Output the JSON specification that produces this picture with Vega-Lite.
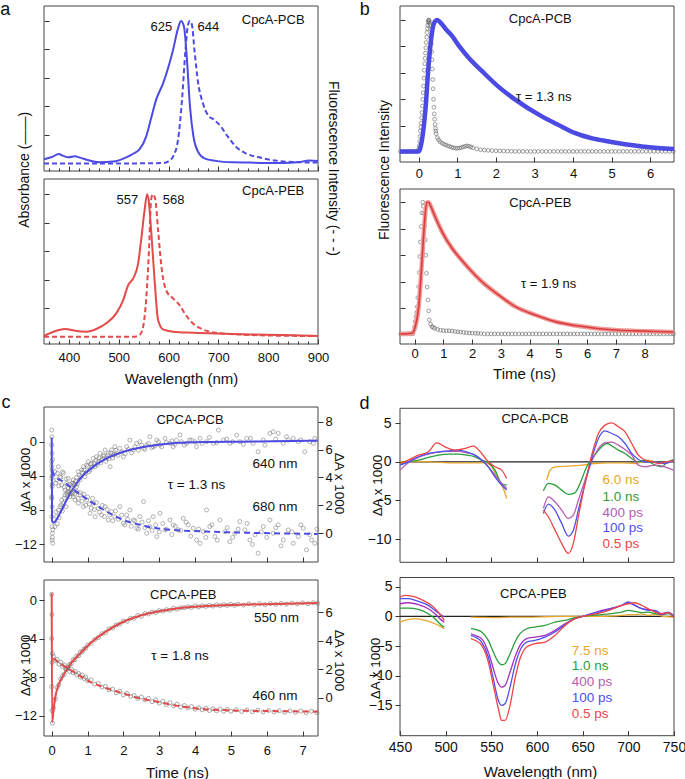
{
"$schema": "https://vega.github.io/schema/vega-lite/v6.json",
"width": 685, "height": 779, "autosize": {"type": "none"}, "padding": 0, "background": "white",
"config": {
 "view": {"stroke": null},
 "font": "Liberation Sans",
 "axis": {"domain": false, "grid": false, "labelFont": "Liberation Sans", "labelFontSize": 13, "labelColor": "#111", "tickColor": "#333", "tickWidth": 1, "titleFont": "Liberation Sans", "titleFontSize": 14, "titleFontWeight": "normal", "titleColor": "#111", "labelFlush": false, "labelOverlap": false},
 "text": {"font": "Liberation Sans", "fontSize": 13, "color": "#111"}
},
"datasets": {
 "aPcbAbs": [{"x":350,"y":0.03},{"x":369,"y":0.05},{"x":379,"y":0.067},{"x":389,"y":0.053},{"x":399,"y":0.043},{"x":412,"y":0.05},{"x":422,"y":0.041},{"x":442,"y":0.02},{"x":462,"y":0.008},{"x":489,"y":0.013},{"x":515,"y":0.043},{"x":530,"y":0.07},{"x":542,"y":0.1},{"x":555,"y":0.188},{"x":565,"y":0.317},{"x":575,"y":0.446},{"x":589,"y":0.562},{"x":599,"y":0.668},{"x":609,"y":0.796},{"x":619,"y":0.948},{"x":625,"y":1.0},{"x":631,"y":0.96},{"x":637,"y":0.726},{"x":643,"y":0.4},{"x":650,"y":0.188},{"x":659,"y":0.083},{"x":672,"y":0.036},{"x":695,"y":0.018},{"x":729,"y":0.008},{"x":762,"y":0.006},{"x":795,"y":0.004},{"x":829,"y":0.004},{"x":862,"y":0.01},{"x":882,"y":0.02},{"x":900,"y":0.018}],
 "aPcbFl": [{"x":350,"y":0},{"x":500,"y":0},{"x":590,"y":0.003},{"x":599,"y":0.013},{"x":609,"y":0.048},{"x":619,"y":0.165},{"x":627,"y":0.446},{"x":634,"y":0.796},{"x":639,"y":0.972},{"x":643,"y":1.0},{"x":647,"y":0.972},{"x":652,"y":0.796},{"x":659,"y":0.574},{"x":669,"y":0.422},{"x":679,"y":0.34},{"x":692,"y":0.305},{"x":705,"y":0.259},{"x":719,"y":0.188},{"x":735,"y":0.118},{"x":755,"y":0.071},{"x":782,"y":0.043},{"x":815,"y":0.02},{"x":849,"y":0.01},{"x":900,"y":0.006}],
 "aPebAbs": [{"x":350,"y":0.006},{"x":369,"y":0.036},{"x":392,"y":0.055},{"x":415,"y":0.041},{"x":435,"y":0.036},{"x":455,"y":0.055},{"x":475,"y":0.095},{"x":495,"y":0.165},{"x":509,"y":0.258},{"x":519,"y":0.363},{"x":529,"y":0.41},{"x":539,"y":0.515},{"x":545,"y":0.679},{"x":552,"y":0.89},{"x":557,"y":1.0},{"x":560,"y":0.96},{"x":565,"y":0.749},{"x":572,"y":0.398},{"x":579,"y":0.118},{"x":589,"y":0.052},{"x":609,"y":0.036},{"x":649,"y":0.029},{"x":695,"y":0.024},{"x":762,"y":0.017},{"x":829,"y":0.013},{"x":900,"y":0.006}],
 "aPebFl": [{"x":350,"y":0},{"x":529,"y":0},{"x":542,"y":0.013},{"x":549,"y":0.07},{"x":555,"y":0.258},{"x":561,"y":0.632},{"x":565,"y":0.96},{"x":568,"y":1.0},{"x":573,"y":0.971},{"x":579,"y":0.749},{"x":585,"y":0.515},{"x":595,"y":0.328},{"x":609,"y":0.27},{"x":622,"y":0.223},{"x":635,"y":0.152},{"x":649,"y":0.094},{"x":669,"y":0.052},{"x":695,"y":0.029},{"x":742,"y":0.017},{"x":795,"y":0.01},{"x":900,"y":0.006}],
 "bPcb": [{"x":-0.49,"y":0.005},{"x":-0.01,"y":0.005},{"x":0.08,"y":0.094},{"x":0.17,"y":0.32},{"x":0.25,"y":0.65},{"x":0.34,"y":0.905},{"x":0.42,"y":0.99},{"x":0.48,"y":1.0},{"x":0.56,"y":0.98},{"x":0.7,"y":0.93},{"x":0.86,"y":0.88},{"x":1.05,"y":0.8},{"x":1.29,"y":0.715},{"x":1.64,"y":0.613},{"x":2.07,"y":0.494},{"x":2.5,"y":0.398},{"x":3.19,"y":0.271},{"x":3.6,"y":0.21},{"x":4.06,"y":0.144},{"x":4.5,"y":0.105},{"x":4.93,"y":0.081},{"x":5.4,"y":0.058},{"x":5.79,"y":0.043},{"x":6.2,"y":0.032},{"x":6.62,"y":0.025}],
 "bPcbIrf": [{"x":-0.48,"y":0.005},{"x":-0.4,"y":0.005},{"x":-0.32,"y":0.005},{"x":-0.24,"y":0.005},{"x":-0.16,"y":0.005},{"x":-0.08,"y":0.005},{"x":-0.02,"y":0.01},{"x":0.0,"y":0.03},{"x":0.01,"y":0.05},{"x":0.02,"y":0.08},{"x":0.03,"y":0.12},{"x":0.04,"y":0.16},{"x":0.05,"y":0.19},{"x":0.06,"y":0.22},{"x":0.07,"y":0.26},{"x":0.08,"y":0.3},{"x":0.09,"y":0.35},{"x":0.1,"y":0.4},{"x":0.11,"y":0.45},{"x":0.12,"y":0.5},{"x":0.13,"y":0.56},{"x":0.14,"y":0.62},{"x":0.15,"y":0.67},{"x":0.16,"y":0.71},{"x":0.17,"y":0.75},{"x":0.18,"y":0.79},{"x":0.19,"y":0.83},{"x":0.2,"y":0.87},{"x":0.21,"y":0.905},{"x":0.22,"y":0.935},{"x":0.23,"y":0.96},{"x":0.24,"y":0.985},{"x":0.25,"y":1.0},{"x":0.26,"y":0.998},{"x":0.27,"y":0.99},{"x":0.28,"y":0.975},{"x":0.29,"y":0.96},{"x":0.3,"y":0.93},{"x":0.31,"y":0.88},{"x":0.32,"y":0.82},{"x":0.33,"y":0.76},{"x":0.34,"y":0.7},{"x":0.35,"y":0.63},{"x":0.36,"y":0.55},{"x":0.37,"y":0.48},{"x":0.38,"y":0.4},{"x":0.39,"y":0.34},{"x":0.4,"y":0.29},{"x":0.41,"y":0.25},{"x":0.42,"y":0.21},{"x":0.43,"y":0.18},{"x":0.44,"y":0.16},{"x":0.45,"y":0.14},{"x":0.48,"y":0.11},{"x":0.51,"y":0.094},{"x":0.55,"y":0.08},{"x":0.6,"y":0.068},{"x":0.65,"y":0.06},{"x":0.7,"y":0.055},{"x":0.75,"y":0.048},{"x":0.8,"y":0.043},{"x":0.85,"y":0.038},{"x":0.9,"y":0.033},{"x":0.95,"y":0.03},{"x":1.0,"y":0.03},{"x":1.05,"y":0.032},{"x":1.1,"y":0.035},{"x":1.15,"y":0.04},{"x":1.2,"y":0.045},{"x":1.25,"y":0.048},{"x":1.3,"y":0.045},{"x":1.35,"y":0.04},{"x":1.4,"y":0.034},{"x":1.5,"y":0.025},{"x":1.6,"y":0.019},{"x":1.7,"y":0.016},{"x":1.8,"y":0.014},{"x":1.9,"y":0.012},{"x":2.0,"y":0.011},{"x":2.1,"y":0.01},{"x":2.2,"y":0.009},{"x":2.3,"y":0.008},{"x":2.4,"y":0.007},{"x":2.5,"y":0.006},{"x":2.6,"y":0.006},{"x":2.7,"y":0.006},{"x":2.8,"y":0.006},{"x":2.9,"y":0.006},{"x":3.0,"y":0.006},{"x":3.1,"y":0.006},{"x":3.2,"y":0.006},{"x":3.3,"y":0.006},{"x":3.4,"y":0.006},{"x":3.5,"y":0.006},{"x":3.6,"y":0.006},{"x":3.7,"y":0.006},{"x":3.8,"y":0.006},{"x":3.9,"y":0.006},{"x":4.0,"y":0.006},{"x":4.1,"y":0.006},{"x":4.2,"y":0.006},{"x":4.3,"y":0.006},{"x":4.4,"y":0.006},{"x":4.5,"y":0.006},{"x":4.6,"y":0.006},{"x":4.7,"y":0.006},{"x":4.8,"y":0.006},{"x":4.9,"y":0.006},{"x":5.0,"y":0.006},{"x":5.1,"y":0.006},{"x":5.2,"y":0.006},{"x":5.3,"y":0.006},{"x":5.4,"y":0.006},{"x":5.5,"y":0.006},{"x":5.6,"y":0.006},{"x":5.7,"y":0.006},{"x":5.8,"y":0.006},{"x":5.9,"y":0.006},{"x":6.0,"y":0.006},{"x":6.1,"y":0.006},{"x":6.2,"y":0.006},{"x":6.3,"y":0.006},{"x":6.4,"y":0.006},{"x":6.5,"y":0.006},{"x":6.6,"y":0.006}],
 "bPeb": [{"x":-0.5,"y":0.006},{"x":-0.09,"y":0.011},{"x":0.02,"y":0.06},{"x":0.14,"y":0.21},{"x":0.25,"y":0.54},{"x":0.34,"y":0.84},{"x":0.42,"y":0.997},{"x":0.48,"y":1.0},{"x":0.56,"y":0.97},{"x":0.66,"y":0.917},{"x":0.95,"y":0.778},{"x":1.3,"y":0.653},{"x":1.53,"y":0.59},{"x":1.88,"y":0.502},{"x":2.34,"y":0.4},{"x":2.92,"y":0.3},{"x":3.5,"y":0.212},{"x":4.2,"y":0.149},{"x":4.89,"y":0.099},{"x":5.59,"y":0.069},{"x":6.28,"y":0.049},{"x":6.98,"y":0.036},{"x":7.67,"y":0.029},{"x":8.37,"y":0.024},{"x":9.0,"y":0.021}],
 "bPebIrf": [{"x":-0.48,"y":0.006},{"x":-0.37,"y":0.006},{"x":-0.26,"y":0.006},{"x":-0.15,"y":0.006},{"x":-0.06,"y":0.008},{"x":0.0,"y":0.06},{"x":0.02,"y":0.1},{"x":0.045,"y":0.137},{"x":0.07,"y":0.17},{"x":0.09,"y":0.212},{"x":0.11,"y":0.28},{"x":0.14,"y":0.363},{"x":0.16,"y":0.47},{"x":0.18,"y":0.59},{"x":0.2,"y":0.7},{"x":0.23,"y":0.816},{"x":0.25,"y":0.92},{"x":0.28,"y":1.0},{"x":0.3,"y":0.97},{"x":0.32,"y":0.917},{"x":0.345,"y":0.82},{"x":0.37,"y":0.716},{"x":0.39,"y":0.6},{"x":0.41,"y":0.464},{"x":0.435,"y":0.36},{"x":0.46,"y":0.263},{"x":0.485,"y":0.18},{"x":0.51,"y":0.112},{"x":0.55,"y":0.08},{"x":0.6,"y":0.061},{"x":0.65,"y":0.055},{"x":0.7,"y":0.048},{"x":0.8,"y":0.04},{"x":0.9,"y":0.034},{"x":1.0,"y":0.031},{"x":1.1,"y":0.03},{"x":1.2,"y":0.03},{"x":1.3,"y":0.028},{"x":1.41,"y":0.024},{"x":1.5,"y":0.022},{"x":1.6,"y":0.02},{"x":1.7,"y":0.017},{"x":1.8,"y":0.015},{"x":1.9,"y":0.013},{"x":2.0,"y":0.012},{"x":2.11,"y":0.011},{"x":2.2,"y":0.01},{"x":2.3,"y":0.009},{"x":2.42,"y":0.006},{"x":2.54,"y":0.006},{"x":2.66,"y":0.006},{"x":2.78,"y":0.006},{"x":2.9,"y":0.006},{"x":3.02,"y":0.006},{"x":3.14,"y":0.006},{"x":3.26,"y":0.006},{"x":3.38,"y":0.006},{"x":3.5,"y":0.006},{"x":3.62,"y":0.006},{"x":3.74,"y":0.006},{"x":3.86,"y":0.006},{"x":3.98,"y":0.006},{"x":4.1,"y":0.006},{"x":4.22,"y":0.006},{"x":4.34,"y":0.006},{"x":4.46,"y":0.006},{"x":4.58,"y":0.006},{"x":4.7,"y":0.006},{"x":4.82,"y":0.006},{"x":4.94,"y":0.006},{"x":5.06,"y":0.006},{"x":5.18,"y":0.006},{"x":5.3,"y":0.006},{"x":5.42,"y":0.006},{"x":5.54,"y":0.006},{"x":5.66,"y":0.006},{"x":5.78,"y":0.006},{"x":5.9,"y":0.006},{"x":6.02,"y":0.006},{"x":6.14,"y":0.006},{"x":6.26,"y":0.006},{"x":6.38,"y":0.006},{"x":6.5,"y":0.006},{"x":6.62,"y":0.006},{"x":6.74,"y":0.006},{"x":6.86,"y":0.006},{"x":6.98,"y":0.006},{"x":7.1,"y":0.006},{"x":7.22,"y":0.006},{"x":7.34,"y":0.006},{"x":7.46,"y":0.006},{"x":7.58,"y":0.006},{"x":7.7,"y":0.006},{"x":7.82,"y":0.006},{"x":7.94,"y":0.006},{"x":8.06,"y":0.006},{"x":8.18,"y":0.006},{"x":8.3,"y":0.006},{"x":8.42,"y":0.006},{"x":8.54,"y":0.006},{"x":8.66,"y":0.006},{"x":8.78,"y":0.006},{"x":8.9,"y":0.006},{"x":9.0,"y":0.006}],
 "c640fit": [{"x":0,"y":0.5},{"x":0.01,"y":-9.3},{"x":0.045,"y":-9.47},{"x":0.092,"y":-9.35},{"x":0.231,"y":-8.38},{"x":0.417,"y":-6.82},{"x":0.603,"y":-5.45},{"x":0.882,"y":-3.9},{"x":1.16,"y":-2.92},{"x":1.53,"y":-1.95},{"x":2.0,"y":-1.17},{"x":2.46,"y":-0.7},{"x":2.93,"y":-0.39},{"x":3.39,"y":-0.19},{"x":4.32,"y":-0.04},{"x":5.25,"y":0.0},{"x":6.18,"y":0.04},{"x":7.42,"y":0.12}],
 "c680fit": [{"x":0.01,"y":4.5},{"x":0.092,"y":4.06},{"x":0.324,"y":3.7},{"x":0.6,"y":3.15},{"x":0.88,"y":2.63},{"x":1.16,"y":2.15},{"x":1.53,"y":1.55},{"x":2.0,"y":0.95},{"x":2.46,"y":0.6},{"x":2.93,"y":0.36},{"x":3.39,"y":0.24},{"x":4.32,"y":0.12},{"x":5.25,"y":0.05},{"x":6.18,"y":0.0},{"x":7.42,"y":-0.05}],
 "c640pts": [{"x":0,"y":1.36},{"x":0.005,"y":0.58},{"x":0,"y":-0.39},{"x":0.01,"y":-1.36},{"x":0,"y":-2.34},{"x":0.01,"y":-3.31},{"x":0,"y":-4.29},{"x":0.01,"y":-5.26},{"x":0,"y":-6.43},{"x":0.01,"y":-7.6},{"x":0,"y":-8.77},{"x":0.01,"y":-9.93},{"x":0.02,"y":-10.71},{"x":0.01,"y":-11.49},{"x":0.03,"y":-11.88},{"x":0.02,"y":-11.2},{"x":0.03,"y":-10.3},{"x":0.092,"y":-9.93},{"x":0.138,"y":-8.77},{"x":0.185,"y":-7.99},{"x":0.231,"y":-7.6},{"x":0.278,"y":-6.82},{"x":0.324,"y":-7.21},{"x":0.371,"y":-6.23},{"x":0.417,"y":-6.04},{"x":0.464,"y":-5.45},{"x":0.51,"y":-6.43},{"x":0.557,"y":-4.87},{"x":0.603,"y":-4.48},{"x":0.65,"y":-5.06},{"x":0.696,"y":-4.17},{"x":0.743,"y":-3.51},{"x":0.789,"y":-4.48},{"x":0.836,"y":-3.31},{"x":0.882,"y":-2.92},{"x":0.928,"y":-4.09},{"x":0.975,"y":-2.73},{"x":1.02,"y":-2.34},{"x":1.07,"y":-3.31},{"x":1.11,"y":-2.53},{"x":1.16,"y":-1.95},{"x":1.21,"y":-2.92},{"x":1.25,"y":-1.75},{"x":1.3,"y":-2.34},{"x":1.35,"y":-1.36},{"x":1.39,"y":-2.14},{"x":1.44,"y":-1.56},{"x":1.49,"y":-0.97},{"x":1.53,"y":-1.95},{"x":1.58,"y":-1.36},{"x":1.63,"y":-2.92},{"x":1.67,"y":-0.97},{"x":1.72,"y":-1.56},{"x":1.76,"y":-0.58},{"x":1.81,"y":-1.36},{"x":1.9,"y":-0.78},{"x":2.0,"y":-1.75},{"x":2.09,"y":-0.58},{"x":2.18,"y":0.19},{"x":2.28,"y":-0.97},{"x":2.37,"y":-0.19},{"x":2.46,"y":0.0},{"x":2.56,"y":-0.78},{"x":2.65,"y":-0.39},{"x":2.74,"y":0.58},{"x":2.83,"y":-0.58},{"x":2.93,"y":0.19},{"x":3.02,"y":-0.39},{"x":3.16,"y":0.39},{"x":3.3,"y":-0.19},{"x":3.39,"y":-0.58},{"x":3.48,"y":0.19},{"x":3.58,"y":0.78},{"x":3.76,"y":-0.19},{"x":3.9,"y":0.19},{"x":4.04,"y":-0.58},{"x":4.14,"y":0.39},{"x":4.32,"y":0.0},{"x":4.51,"y":-0.19},{"x":4.65,"y":1.36},{"x":4.79,"y":0.19},{"x":4.97,"y":-0.19},{"x":5.16,"y":0.78},{"x":5.25,"y":0.0},{"x":5.44,"y":0.39},{"x":5.62,"y":-0.19},{"x":5.76,"y":-1.17},{"x":5.9,"y":0.19},{"x":6.09,"y":0.97},{"x":6.18,"y":1.17},{"x":6.32,"y":0.97},{"x":6.46,"y":-0.19},{"x":6.6,"y":0.19},{"x":6.74,"y":0.39},{"x":6.88,"y":0.0},{"x":7.06,"y":-1.17},{"x":7.2,"y":0.0},{"x":7.34,"y":0.39},
  {"x":0.12,"y":-8.2},{"x":0.16,"y":-9.6},{"x":0.21,"y":-8.9},{"x":0.26,"y":-7.4},{"x":0.3,"y":-8.1},{"x":0.35,"y":-6.6},{"x":0.4,"y":-7.6},{"x":0.44,"y":-6.3},{"x":0.48,"y":-5.9},{"x":0.53,"y":-5.6},{"x":0.58,"y":-6.1},{"x":0.62,"y":-5.0},{"x":0.67,"y":-4.6},{"x":0.72,"y":-4.9},{"x":0.76,"y":-3.9},{"x":0.81,"y":-4.1},{"x":0.86,"y":-3.6},{"x":0.9,"y":-3.3},{"x":0.95,"y":-3.7},{"x":1.0,"y":-2.9},{"x":1.04,"y":-3.5},{"x":1.09,"y":-2.6},{"x":1.13,"y":-3.0},{"x":1.18,"y":-2.5},{"x":1.23,"y":-2.2},{"x":1.27,"y":-2.7},{"x":1.32,"y":-1.9},{"x":1.37,"y":-2.5},{"x":1.42,"y":-2.0},{"x":1.46,"y":-1.7},{"x":1.51,"y":-2.3},{"x":1.56,"y":-1.6},{"x":1.6,"y":-2.0},{"x":1.65,"y":-1.3},{"x":1.7,"y":-1.9},{"x":1.74,"y":-1.5},{"x":1.79,"y":-1.0},{"x":1.85,"y":-1.6},{"x":1.95,"y":-1.2},{"x":2.05,"y":-1.4},{"x":2.14,"y":-0.9},{"x":2.23,"y":-1.3},{"x":2.32,"y":-0.6},{"x":2.42,"y":-1.0},{"x":2.51,"y":-0.4},{"x":2.6,"y":-0.9},{"x":2.7,"y":-0.2},{"x":2.79,"y":-0.7},{"x":2.88,"y":-0.5},{"x":2.98,"y":0.0},{"x":3.07,"y":-0.6},{"x":3.2,"y":-0.1},{"x":3.35,"y":0.1},{"x":3.44,"y":-0.3},{"x":3.62,"y":0.0},{"x":3.7,"y":-0.4},{"x":3.85,"y":0.2},{"x":4.0,"y":0.0},{"x":4.2,"y":-0.2},{"x":4.4,"y":0.5},{"x":4.6,"y":-0.1},{"x":4.88,"y":0.3},{"x":5.05,"y":0.0},{"x":5.35,"y":-0.3},{"x":5.55,"y":0.4},{"x":5.95,"y":-0.4},{"x":6.25,"y":0.3},{"x":6.55,"y":0.6},{"x":6.95,"y":0.2},{"x":7.3,"y":-0.2}],
 "c680pts": [{"x":0.0,"y":2.5},{"x":0.01,"y":3.5},{"x":0.0,"y":4.8},{"x":0.02,"y":5.3},{"x":0.01,"y":4.1},{"x":0.092,"y":4.42},{"x":0.138,"y":3.82},{"x":0.185,"y":4.77},{"x":0.231,"y":4.06},{"x":0.278,"y":3.46},{"x":0.324,"y":4.3},{"x":0.371,"y":3.1},{"x":0.417,"y":3.58},{"x":0.464,"y":3.94},{"x":0.51,"y":2.86},{"x":0.557,"y":3.22},{"x":0.603,"y":2.63},{"x":0.65,"y":2.39},{"x":0.696,"y":3.34},{"x":0.743,"y":2.15},{"x":0.789,"y":2.74},{"x":0.882,"y":1.91},{"x":0.975,"y":2.39},{"x":1.07,"y":1.43},{"x":1.16,"y":2.15},{"x":1.21,"y":1.19},{"x":1.3,"y":1.79},{"x":1.39,"y":1.31},{"x":1.49,"y":1.91},{"x":1.58,"y":0.95},{"x":1.67,"y":1.55},{"x":1.76,"y":1.19},{"x":1.9,"y":1.91},{"x":2.0,"y":0.72},{"x":2.09,"y":1.31},{"x":2.18,"y":1.67},{"x":2.28,"y":0.95},{"x":2.37,"y":0.36},{"x":2.46,"y":1.19},{"x":2.56,"y":2.27},{"x":2.65,"y":0.0},{"x":2.74,"y":0.48},{"x":2.83,"y":1.19},{"x":2.93,"y":-0.24},{"x":3.02,"y":1.43},{"x":3.16,"y":0.24},{"x":3.3,"y":0.95},{"x":3.39,"y":0.6},{"x":3.53,"y":0.24},{"x":3.67,"y":1.07},{"x":3.81,"y":0.6},{"x":3.95,"y":0.36},{"x":4.04,"y":-0.48},{"x":4.14,"y":-0.72},{"x":4.23,"y":0.12},{"x":4.32,"y":1.67},{"x":4.41,"y":0.48},{"x":4.55,"y":-0.24},{"x":4.69,"y":0.95},{"x":4.83,"y":0.12},{"x":4.97,"y":-0.6},{"x":5.11,"y":0.0},{"x":5.25,"y":0.84},{"x":5.39,"y":0.24},{"x":5.53,"y":-0.48},{"x":5.67,"y":-0.12},{"x":5.76,"y":-1.43},{"x":5.9,"y":0.48},{"x":6.09,"y":0.95},{"x":6.18,"y":0.0},{"x":6.32,"y":0.6},{"x":6.46,"y":-0.48},{"x":6.6,"y":0.24},{"x":6.74,"y":-0.72},{"x":6.88,"y":-0.24},{"x":7.02,"y":0.36},{"x":7.11,"y":-1.19},{"x":7.25,"y":-0.48},{"x":7.34,"y":-0.72},
  {"x":0.11,"y":3.6},{"x":0.16,"y":4.3},{"x":0.2,"y":3.4},{"x":0.25,"y":4.0},{"x":0.3,"y":4.4},{"x":0.35,"y":3.3},{"x":0.4,"y":3.9},{"x":0.45,"y":3.0},{"x":0.5,"y":3.5},{"x":0.55,"y":2.9},{"x":0.6,"y":3.6},{"x":0.64,"y":2.8},{"x":0.7,"y":3.0},{"x":0.74,"y":2.5},{"x":0.8,"y":2.9},{"x":0.85,"y":2.3},{"x":0.9,"y":2.8},{"x":0.95,"y":2.0},{"x":1.0,"y":2.6},{"x":1.05,"y":2.1},{"x":1.1,"y":1.8},{"x":1.14,"y":2.5},{"x":1.19,"y":1.7},{"x":1.25,"y":2.2},{"x":1.33,"y":1.5},{"x":1.41,"y":2.0},{"x":1.47,"y":1.2},{"x":1.55,"y":1.7},{"x":1.62,"y":1.3},{"x":1.7,"y":0.9},{"x":1.78,"y":1.6},{"x":1.86,"y":1.0},{"x":1.95,"y":1.3},{"x":2.04,"y":0.6},{"x":2.12,"y":1.0},{"x":2.22,"y":0.5},{"x":2.32,"y":0.9},{"x":2.42,"y":0.3},{"x":2.52,"y":0.8},{"x":2.6,"y":0.4},{"x":2.7,"y":0.9},{"x":2.8,"y":0.2},{"x":2.9,"y":0.6},{"x":3.0,"y":0.1},{"x":3.1,"y":0.7},{"x":3.2,"y":0.3},{"x":3.35,"y":-0.1},{"x":3.45,"y":0.5},{"x":3.6,"y":0.2},{"x":3.75,"y":0.8},{"x":3.88,"y":-0.2},{"x":4.1,"y":0.3},{"x":4.3,"y":-0.3},{"x":4.47,"y":0.6},{"x":4.62,"y":-0.5},{"x":4.9,"y":0.4},{"x":5.05,"y":-0.3},{"x":5.2,"y":0.3},{"x":5.45,"y":0.7},{"x":5.6,"y":-0.8},{"x":5.85,"y":0.1},{"x":6.0,"y":-0.3},{"x":6.25,"y":0.4},{"x":6.4,"y":-0.9},{"x":6.7,"y":0.1},{"x":6.95,"y":0.6},{"x":7.2,"y":-0.1},{"x":7.4,"y":0.3}],
 "c550fit": [{"x":0,"y":0.7},{"x":0.01,"y":-12.7},{"x":0.045,"y":-11.65},{"x":0.092,"y":-10.26},{"x":0.185,"y":-8.87},{"x":0.324,"y":-7.83},{"x":0.51,"y":-6.71},{"x":0.79,"y":-5.57},{"x":1.07,"y":-4.52},{"x":1.53,"y":-3.23},{"x":2.0,"y":-2.26},{"x":2.46,"y":-1.63},{"x":2.93,"y":-1.22},{"x":3.39,"y":-0.94},{"x":3.86,"y":-0.73},{"x":4.32,"y":-0.63},{"x":5.25,"y":-0.49},{"x":6.18,"y":-0.42},{"x":7.42,"y":-0.31}],
 "c460fit": [{"x":0.045,"y":2.76},{"x":0.231,"y":2.41},{"x":0.603,"y":1.83},{"x":1.07,"y":1.12},{"x":1.53,"y":0.66},{"x":2.0,"y":0.3},{"x":2.46,"y":-0.05},{"x":2.93,"y":-0.28},{"x":3.39,"y":-0.52},{"x":3.86,"y":-0.7},{"x":4.32,"y":-0.82},{"x":4.79,"y":-0.87},{"x":5.25,"y":-0.91},{"x":6.18,"y":-0.94},{"x":7.42,"y":-0.98}],
 "c550pts": [{"x":0,"y":0.6},{"x":0.005,"y":-1.5},{"x":0,"y":-4},{"x":0.01,"y":-6.5},{"x":0,"y":-9},{"x":0.01,"y":-11.5},{"x":0.02,"y":-12.8},{"x":0.05,"y":-11.2},{"x":0.1,"y":-10.3},{"x":0.15,"y":-9.1},{"x":0.2,"y":-8.8},{"x":0.25,"y":-8.2},{"x":0.3,"y":-7.9},{"x":0.35,"y":-7.7},{"x":0.4,"y":-7.2},{"x":0.45,"y":-7.1},{"x":0.5,"y":-6.7},{"x":0.55,"y":-6.6},{"x":0.6,"y":-6.2},{"x":0.65,"y":-6.2},{"x":0.7,"y":-5.8},{"x":0.75,"y":-5.8},{"x":0.8,"y":-5.4},{"x":0.85,"y":-5.4},{"x":0.9,"y":-5.1},{"x":0.95,"y":-5.0},{"x":1.0,"y":-4.7},{"x":1.1,"y":-4.5},{"x":1.2,"y":-4.1},{"x":1.3,"y":-3.9},{"x":1.4,"y":-3.5},{"x":1.5,"y":-3.4},{"x":1.6,"y":-3.0},{"x":1.7,"y":-2.9},{"x":1.8,"y":-2.6},{"x":1.9,"y":-2.5},{"x":2.0,"y":-2.2},{"x":2.1,"y":-2.2},{"x":2.2,"y":-1.9},{"x":2.3,"y":-1.9},{"x":2.4,"y":-1.6},{"x":2.5,"y":-1.7},{"x":2.6,"y":-1.4},{"x":2.7,"y":-1.45},{"x":2.8,"y":-1.25},{"x":2.9,"y":-1.3},{"x":3.0,"y":-1.1},{"x":3.1,"y":-1.15},{"x":3.2,"y":-1.0},{"x":3.3,"y":-1.05},{"x":3.4,"y":-0.85},{"x":3.5,"y":-0.95},{"x":3.6,"y":-0.8},{"x":3.7,"y":-0.8},{"x":3.8,"y":-0.7},{"x":3.9,"y":-0.78},{"x":4.0,"y":-0.62},{"x":4.1,"y":-0.72},{"x":4.2,"y":-0.6},{"x":4.3,"y":-0.66},{"x":4.4,"y":-0.55},{"x":4.5,"y":-0.63},{"x":4.6,"y":-0.5},{"x":4.7,"y":-0.6},{"x":4.8,"y":-0.48},{"x":4.9,"y":-0.56},{"x":5.0,"y":-0.45},{"x":5.1,"y":-0.55},{"x":5.2,"y":-0.44},{"x":5.35,"y":-0.52},{"x":5.5,"y":-0.4},{"x":5.65,"y":-0.5},{"x":5.8,"y":-0.38},{"x":5.95,"y":-0.48},{"x":6.1,"y":-0.37},{"x":6.25,"y":-0.46},{"x":6.4,"y":-0.35},{"x":6.55,"y":-0.43},{"x":6.7,"y":-0.32},{"x":6.85,"y":-0.4},{"x":7.0,"y":-0.3},{"x":7.15,"y":-0.38},{"x":7.3,"y":-0.28},{"x":7.42,"y":-0.35}],
 "c460pts": [{"x":0.02,"y":3.1},{"x":0.05,"y":2.9},{"x":0.1,"y":2.6},{"x":0.15,"y":2.7},{"x":0.2,"y":2.35},{"x":0.25,"y":2.5},{"x":0.3,"y":2.2},{"x":0.35,"y":2.3},{"x":0.4,"y":2.0},{"x":0.45,"y":2.15},{"x":0.5,"y":1.85},{"x":0.55,"y":2.0},{"x":0.6,"y":1.75},{"x":0.65,"y":1.85},{"x":0.7,"y":1.6},{"x":0.75,"y":1.7},{"x":0.8,"y":1.45},{"x":0.85,"y":1.6},{"x":0.9,"y":1.35},{"x":0.95,"y":1.45},{"x":1.0,"y":1.2},{"x":1.1,"y":1.25},{"x":1.2,"y":0.95},{"x":1.3,"y":1.0},{"x":1.4,"y":0.75},{"x":1.5,"y":0.8},{"x":1.6,"y":0.55},{"x":1.7,"y":0.6},{"x":1.8,"y":0.35},{"x":1.9,"y":0.45},{"x":2.0,"y":0.2},{"x":2.1,"y":0.3},{"x":2.2,"y":0.1},{"x":2.3,"y":0.15},{"x":2.4,"y":-0.05},{"x":2.5,"y":0.05},{"x":2.6,"y":-0.15},{"x":2.7,"y":-0.05},{"x":2.8,"y":-0.28},{"x":2.9,"y":-0.15},{"x":3.0,"y":-0.38},{"x":3.1,"y":-0.25},{"x":3.2,"y":-0.48},{"x":3.3,"y":-0.35},{"x":3.4,"y":-0.58},{"x":3.5,"y":-0.45},{"x":3.6,"y":-0.66},{"x":3.7,"y":-0.55},{"x":3.8,"y":-0.72},{"x":3.9,"y":-0.62},{"x":4.0,"y":-0.8},{"x":4.1,"y":-0.7},{"x":4.2,"y":-0.85},{"x":4.3,"y":-0.75},{"x":4.4,"y":-0.9},{"x":4.5,"y":-0.78},{"x":4.6,"y":-0.92},{"x":4.7,"y":-0.8},{"x":4.8,"y":-0.95},{"x":4.9,"y":-0.82},{"x":5.0,"y":-0.95},{"x":5.15,"y":-0.85},{"x":5.3,"y":-0.97},{"x":5.45,"y":-0.86},{"x":5.6,"y":-0.98},{"x":5.75,"y":-0.88},{"x":5.9,"y":-1.0},{"x":6.05,"y":-0.9},{"x":6.2,"y":-1.0},{"x":6.35,"y":-0.92},{"x":6.5,"y":-1.02},{"x":6.65,"y":-0.93},{"x":6.8,"y":-1.03},{"x":6.95,"y":-0.94},{"x":7.1,"y":-1.05},{"x":7.25,"y":-0.95},{"x":7.4,"y":-1.05}],
 "dPcb": [
  {"s":"6.0 ns","g":1,"x":450,"y":0},{"s":"6.0 ns","g":1,"x":459.1,"y":0},{"s":"6.0 ns","g":1,"x":473.7,"y":0.04},{"s":"6.0 ns","g":1,"x":488.3,"y":-0.04},{"s":"6.0 ns","g":1,"x":502.9,"y":-0.13},{"s":"6.0 ns","g":1,"x":517.5,"y":-0.13},{"s":"6.0 ns","g":1,"x":532.1,"y":-0.13},{"s":"6.0 ns","g":1,"x":543.1,"y":-0.13},{"s":"6.0 ns","g":1,"x":550.4,"y":-0.65},{"s":"6.0 ns","g":1,"x":557.7,"y":-2.37},{"s":"6.0 ns","g":1,"x":563.2,"y":-3.45},{"s":"6.0 ns","g":1,"x":566.8,"y":-4.74},
  {"s":"6.0 ns","g":2,"x":610.6,"y":-2.37},{"s":"6.0 ns","g":2,"x":614.3,"y":-1.08},{"s":"6.0 ns","g":2,"x":619.7,"y":-0.65},{"s":"6.0 ns","g":2,"x":634.3,"y":-0.56},{"s":"6.0 ns","g":2,"x":648.9,"y":-0.43},{"s":"6.0 ns","g":2,"x":663.5,"y":-0.22},{"s":"6.0 ns","g":2,"x":678.1,"y":-0.13},{"s":"6.0 ns","g":2,"x":692.7,"y":-0.13},{"s":"6.0 ns","g":2,"x":707.3,"y":-0.22},{"s":"6.0 ns","g":2,"x":721.9,"y":0.22},{"s":"6.0 ns","g":2,"x":736.5,"y":-0.22},{"s":"6.0 ns","g":2,"x":749.3,"y":0.13},
  {"s":"1.0 ns","g":1,"x":450,"y":-0.22},{"s":"1.0 ns","g":1,"x":459.1,"y":0},{"s":"1.0 ns","g":1,"x":470.1,"y":0.22},{"s":"1.0 ns","g":1,"x":481,"y":0.56},{"s":"1.0 ns","g":1,"x":492,"y":0.86},{"s":"1.0 ns","g":1,"x":502.9,"y":0.99},{"s":"1.0 ns","g":1,"x":513.9,"y":0.99},{"s":"1.0 ns","g":1,"x":523,"y":0.86},{"s":"1.0 ns","g":1,"x":532.1,"y":0.65},{"s":"1.0 ns","g":1,"x":539.4,"y":0.22},{"s":"1.0 ns","g":1,"x":546.7,"y":-0.13},{"s":"1.0 ns","g":1,"x":554,"y":-1.08},{"s":"1.0 ns","g":1,"x":561.3,"y":-2.8},{"s":"1.0 ns","g":1,"x":566.8,"y":-3.02},
  {"s":"1.0 ns","g":2,"x":607,"y":-3.75},{"s":"1.0 ns","g":2,"x":612.4,"y":-2.8},{"s":"1.0 ns","g":2,"x":619.7,"y":-3.02},{"s":"1.0 ns","g":2,"x":627,"y":-3.66},{"s":"1.0 ns","g":2,"x":634.3,"y":-4.22},{"s":"1.0 ns","g":2,"x":641.6,"y":-4.01},{"s":"1.0 ns","g":2,"x":647.1,"y":-2.8},{"s":"1.0 ns","g":2,"x":654.4,"y":-0.65},{"s":"1.0 ns","g":2,"x":661.7,"y":0.65},{"s":"1.0 ns","g":2,"x":669,"y":1.72},{"s":"1.0 ns","g":2,"x":676.3,"y":2.37},{"s":"1.0 ns","g":2,"x":683.6,"y":1.94},{"s":"1.0 ns","g":2,"x":689.1,"y":1.51},{"s":"1.0 ns","g":2,"x":696.4,"y":1.08},{"s":"1.0 ns","g":2,"x":703.7,"y":0.43},{"s":"1.0 ns","g":2,"x":711,"y":0},{"s":"1.0 ns","g":2,"x":718.3,"y":0.22},{"s":"1.0 ns","g":2,"x":729.2,"y":-0.43},{"s":"1.0 ns","g":2,"x":736.5,"y":-0.65},{"s":"1.0 ns","g":2,"x":742,"y":-0.13},{"s":"1.0 ns","g":2,"x":749.3,"y":0.3},
  {"s":"400 ps","g":1,"x":450,"y":-1.08},{"s":"400 ps","g":1,"x":459.1,"y":-0.13},{"s":"400 ps","g":1,"x":470.1,"y":0.56},{"s":"400 ps","g":1,"x":481,"y":0.99},{"s":"400 ps","g":1,"x":492,"y":1.25},{"s":"400 ps","g":1,"x":502.9,"y":1.34},{"s":"400 ps","g":1,"x":513.9,"y":1.34},{"s":"400 ps","g":1,"x":523,"y":1.16},{"s":"400 ps","g":1,"x":532.1,"y":0.86},{"s":"400 ps","g":1,"x":539.4,"y":0.22},{"s":"400 ps","g":1,"x":546.7,"y":-0.65},{"s":"400 ps","g":1,"x":554,"y":-1.72},{"s":"400 ps","g":1,"x":561.3,"y":-2.8},{"s":"400 ps","g":1,"x":566.8,"y":-3.45},
  {"s":"400 ps","g":2,"x":607,"y":-6.03},{"s":"400 ps","g":2,"x":612.4,"y":-4.53},{"s":"400 ps","g":2,"x":619.7,"y":-5.17},{"s":"400 ps","g":2,"x":627,"y":-6.25},{"s":"400 ps","g":2,"x":634.3,"y":-7.33},{"s":"400 ps","g":2,"x":639.8,"y":-6.9},{"s":"400 ps","g":2,"x":645.3,"y":-4.96},{"s":"400 ps","g":2,"x":652.6,"y":-2.37},{"s":"400 ps","g":2,"x":659.9,"y":0},{"s":"400 ps","g":2,"x":667.2,"y":1.72},{"s":"400 ps","g":2,"x":674.5,"y":2.46},{"s":"400 ps","g":2,"x":681.8,"y":2.54},{"s":"400 ps","g":2,"x":689.1,"y":2.16},{"s":"400 ps","g":2,"x":696.4,"y":1.59},{"s":"400 ps","g":2,"x":703.7,"y":0.86},{"s":"400 ps","g":2,"x":711,"y":-0.43},{"s":"400 ps","g":2,"x":718.3,"y":-0.65},{"s":"400 ps","g":2,"x":729.2,"y":-0.43},{"s":"400 ps","g":2,"x":740.2,"y":-0.65},{"s":"400 ps","g":2,"x":749.3,"y":-1.08},
  {"s":"100 ps","g":1,"x":450,"y":-0.43},{"s":"100 ps","g":1,"x":459.1,"y":0},{"s":"100 ps","g":1,"x":470.1,"y":0.65},{"s":"100 ps","g":1,"x":481,"y":1.08},{"s":"100 ps","g":1,"x":492,"y":1.29},{"s":"100 ps","g":1,"x":502.9,"y":1.42},{"s":"100 ps","g":1,"x":513.9,"y":1.51},{"s":"100 ps","g":1,"x":523,"y":1.29},{"s":"100 ps","g":1,"x":532.1,"y":0.86},{"s":"100 ps","g":1,"x":539.4,"y":0.22},{"s":"100 ps","g":1,"x":546.7,"y":-0.65},{"s":"100 ps","g":1,"x":554,"y":-1.94},{"s":"100 ps","g":1,"x":561.3,"y":-3.02},{"s":"100 ps","g":1,"x":566.8,"y":-3.66},
  {"s":"100 ps","g":2,"x":607,"y":-6.68},{"s":"100 ps","g":2,"x":612.4,"y":-5.47},{"s":"100 ps","g":2,"x":619.7,"y":-6.25},{"s":"100 ps","g":2,"x":627,"y":-7.97},{"s":"100 ps","g":2,"x":634.3,"y":-9.61},{"s":"100 ps","g":2,"x":639.8,"y":-8.84},{"s":"100 ps","g":2,"x":645.3,"y":-6.25},{"s":"100 ps","g":2,"x":652.6,"y":-2.8},{"s":"100 ps","g":2,"x":659.9,"y":0.43},{"s":"100 ps","g":2,"x":667.2,"y":3.02},{"s":"100 ps","g":2,"x":674.5,"y":4.01},{"s":"100 ps","g":2,"x":681.8,"y":3.66},{"s":"100 ps","g":2,"x":689.1,"y":3.23},{"s":"100 ps","g":2,"x":696.4,"y":2.37},{"s":"100 ps","g":2,"x":703.7,"y":1.08},{"s":"100 ps","g":2,"x":711,"y":0.3},{"s":"100 ps","g":2,"x":718.3,"y":0},{"s":"100 ps","g":2,"x":729.2,"y":0},{"s":"100 ps","g":2,"x":740.2,"y":-0.22},{"s":"100 ps","g":2,"x":749.3,"y":0.22},
  {"s":"0.5 ps","g":1,"x":450,"y":-0.22},{"s":"0.5 ps","g":1,"x":459.1,"y":0.22},{"s":"0.5 ps","g":1,"x":470.1,"y":0.86},{"s":"0.5 ps","g":1,"x":481,"y":1.29},{"s":"0.5 ps","g":1,"x":490.2,"y":2.46},{"s":"0.5 ps","g":1,"x":499.3,"y":1.94},{"s":"0.5 ps","g":1,"x":510.2,"y":1.51},{"s":"0.5 ps","g":1,"x":521.2,"y":1.72},{"s":"0.5 ps","g":1,"x":530.3,"y":2.03},{"s":"0.5 ps","g":1,"x":539.4,"y":1.08},{"s":"0.5 ps","g":1,"x":546.7,"y":0},{"s":"0.5 ps","g":1,"x":554,"y":-0.65},{"s":"0.5 ps","g":1,"x":561.3,"y":-1.08},{"s":"0.5 ps","g":1,"x":566.8,"y":-2.16},
  {"s":"0.5 ps","g":2,"x":607,"y":-6.25},{"s":"0.5 ps","g":2,"x":612.4,"y":-7.11},{"s":"0.5 ps","g":2,"x":619.7,"y":-8.84},{"s":"0.5 ps","g":2,"x":627,"y":-10.56},{"s":"0.5 ps","g":2,"x":634.3,"y":-11.85},{"s":"0.5 ps","g":2,"x":639.8,"y":-10.56},{"s":"0.5 ps","g":2,"x":645.3,"y":-7.11},{"s":"0.5 ps","g":2,"x":652.6,"y":-2.8},{"s":"0.5 ps","g":2,"x":659.9,"y":0.86},{"s":"0.5 ps","g":2,"x":667.2,"y":3.66},{"s":"0.5 ps","g":2,"x":674.5,"y":4.74},{"s":"0.5 ps","g":2,"x":681.8,"y":5.04},{"s":"0.5 ps","g":2,"x":689.1,"y":4.53},{"s":"0.5 ps","g":2,"x":696.4,"y":3.88},{"s":"0.5 ps","g":2,"x":703.7,"y":2.37},{"s":"0.5 ps","g":2,"x":711,"y":0.86},{"s":"0.5 ps","g":2,"x":718.3,"y":0.22},{"s":"0.5 ps","g":2,"x":725.6,"y":0},{"s":"0.5 ps","g":2,"x":732.9,"y":-0.22},{"s":"0.5 ps","g":2,"x":740.2,"y":0},{"s":"0.5 ps","g":2,"x":749.3,"y":0.13}
 ],
 "dPeb": [
  {"s":"7.5 ns","g":1,"x":450,"y":-0.96},{"s":"7.5 ns","g":1,"x":455.5,"y":-0.67},{"s":"7.5 ns","g":1,"x":466.4,"y":-0.39},{"s":"7.5 ns","g":1,"x":477.4,"y":-0.67},{"s":"7.5 ns","g":1,"x":488.3,"y":-1.24},{"s":"7.5 ns","g":1,"x":495.6,"y":-1.8},{"s":"7.5 ns","g":1,"x":498.5,"y":-2.08},
  {"s":"7.5 ns","g":2,"x":527.7,"y":-0.11},{"s":"7.5 ns","g":2,"x":539.4,"y":-0.17},{"s":"7.5 ns","g":2,"x":554,"y":-0.22},{"s":"7.5 ns","g":2,"x":572.3,"y":-0.11},{"s":"7.5 ns","g":2,"x":590.5,"y":-0.11},{"s":"7.5 ns","g":2,"x":608.8,"y":-0.06},{"s":"7.5 ns","g":2,"x":627,"y":0},{"s":"7.5 ns","g":2,"x":645.3,"y":0},{"s":"7.5 ns","g":2,"x":663.5,"y":0},{"s":"7.5 ns","g":2,"x":681.8,"y":0.06},{"s":"7.5 ns","g":2,"x":692.7,"y":0.17},{"s":"7.5 ns","g":2,"x":700,"y":0.28},{"s":"7.5 ns","g":2,"x":707.3,"y":0.28},{"s":"7.5 ns","g":2,"x":714.6,"y":0.39},{"s":"7.5 ns","g":2,"x":721.9,"y":0.17},{"s":"7.5 ns","g":2,"x":729.2,"y":0.34},{"s":"7.5 ns","g":2,"x":736.5,"y":0.06},{"s":"7.5 ns","g":2,"x":749.3,"y":-0.11},
  {"s":"1.0 ns","g":1,"x":450,"y":1.4},{"s":"1.0 ns","g":1,"x":459.1,"y":1.4},{"s":"1.0 ns","g":1,"x":470.1,"y":1.18},{"s":"1.0 ns","g":1,"x":481,"y":0.45},{"s":"1.0 ns","g":1,"x":488.3,"y":-0.39},{"s":"1.0 ns","g":1,"x":495.6,"y":-1.52},{"s":"1.0 ns","g":1,"x":498.5,"y":-1.8},
  {"s":"1.0 ns","g":2,"x":527.7,"y":-2.08},{"s":"1.0 ns","g":2,"x":532.1,"y":-2.19},{"s":"1.0 ns","g":2,"x":539.4,"y":-2.64},{"s":"1.0 ns","g":2,"x":546.7,"y":-4.04},{"s":"1.0 ns","g":2,"x":552.2,"y":-6.01},{"s":"1.0 ns","g":2,"x":557.7,"y":-7.7},{"s":"1.0 ns","g":2,"x":561.3,"y":-8.15},{"s":"1.0 ns","g":2,"x":565,"y":-7.98},{"s":"1.0 ns","g":2,"x":570.5,"y":-6.29},{"s":"1.0 ns","g":2,"x":575.9,"y":-4.33},{"s":"1.0 ns","g":2,"x":581.4,"y":-2.92},{"s":"1.0 ns","g":2,"x":588.7,"y":-2.08},{"s":"1.0 ns","g":2,"x":597.8,"y":-1.8},{"s":"1.0 ns","g":2,"x":608.8,"y":-1.52},{"s":"1.0 ns","g":2,"x":619.7,"y":-0.96},{"s":"1.0 ns","g":2,"x":630.7,"y":-0.67},{"s":"1.0 ns","g":2,"x":641.6,"y":-0.22},{"s":"1.0 ns","g":2,"x":650,"y":0},{"s":"1.0 ns","g":2,"x":659.9,"y":0.17},{"s":"1.0 ns","g":2,"x":670.8,"y":0.28},{"s":"1.0 ns","g":2,"x":681.8,"y":0.45},{"s":"1.0 ns","g":2,"x":692.7,"y":0.73},{"s":"1.0 ns","g":2,"x":700,"y":1.01},{"s":"1.0 ns","g":2,"x":707.3,"y":0.84},{"s":"1.0 ns","g":2,"x":714.6,"y":0.62},{"s":"1.0 ns","g":2,"x":721.9,"y":0.73},{"s":"1.0 ns","g":2,"x":729.2,"y":0.45},{"s":"1.0 ns","g":2,"x":736.5,"y":0.28},{"s":"1.0 ns","g":2,"x":743.8,"y":0.45},{"s":"1.0 ns","g":2,"x":749.3,"y":0.06},
  {"s":"400 ps","g":1,"x":450,"y":2.13},{"s":"400 ps","g":1,"x":459.1,"y":2.3},{"s":"400 ps","g":1,"x":470.1,"y":1.97},{"s":"400 ps","g":1,"x":481,"y":1.29},{"s":"400 ps","g":1,"x":488.3,"y":0.45},{"s":"400 ps","g":1,"x":495.6,"y":-0.67},{"s":"400 ps","g":1,"x":498.5,"y":-0.96},
  {"s":"400 ps","g":2,"x":527.7,"y":-2.92},{"s":"400 ps","g":2,"x":532.1,"y":-3.2},{"s":"400 ps","g":2,"x":539.4,"y":-3.76},{"s":"400 ps","g":2,"x":546.7,"y":-6.01},{"s":"400 ps","g":2,"x":552.2,"y":-8.82},{"s":"400 ps","g":2,"x":557.7,"y":-11.35},{"s":"400 ps","g":2,"x":561.3,"y":-11.91},{"s":"400 ps","g":2,"x":565,"y":-11.63},{"s":"400 ps","g":2,"x":570.5,"y":-9.38},{"s":"400 ps","g":2,"x":575.9,"y":-6.85},{"s":"400 ps","g":2,"x":581.4,"y":-4.89},{"s":"400 ps","g":2,"x":588.7,"y":-3.76},{"s":"400 ps","g":2,"x":597.8,"y":-3.48},{"s":"400 ps","g":2,"x":608.8,"y":-3.2},{"s":"400 ps","g":2,"x":619.7,"y":-2.36},{"s":"400 ps","g":2,"x":630.7,"y":-1.24},{"s":"400 ps","g":2,"x":641.6,"y":-0.39},{"s":"400 ps","g":2,"x":650,"y":0},{"s":"400 ps","g":2,"x":659.9,"y":0.45},{"s":"400 ps","g":2,"x":670.8,"y":1.01},{"s":"400 ps","g":2,"x":681.8,"y":1.4},{"s":"400 ps","g":2,"x":692.7,"y":1.85},{"s":"400 ps","g":2,"x":700,"y":2.3},{"s":"400 ps","g":2,"x":707.3,"y":1.85},{"s":"400 ps","g":2,"x":714.6,"y":1.29},{"s":"400 ps","g":2,"x":721.9,"y":1.18},{"s":"400 ps","g":2,"x":729.2,"y":0.84},{"s":"400 ps","g":2,"x":736.5,"y":0.28},{"s":"400 ps","g":2,"x":743.8,"y":0.62},{"s":"400 ps","g":2,"x":749.3,"y":0.17},
  {"s":"100 ps","g":1,"x":450,"y":2.98},{"s":"100 ps","g":1,"x":459.1,"y":2.98},{"s":"100 ps","g":1,"x":470.1,"y":2.53},{"s":"100 ps","g":1,"x":481,"y":1.85},{"s":"100 ps","g":1,"x":488.3,"y":1.01},{"s":"100 ps","g":1,"x":495.6,"y":0.17},{"s":"100 ps","g":1,"x":498.5,"y":-0.11},
  {"s":"100 ps","g":2,"x":527.7,"y":-3.2},{"s":"100 ps","g":2,"x":532.1,"y":-3.48},{"s":"100 ps","g":2,"x":539.4,"y":-4.33},{"s":"100 ps","g":2,"x":546.7,"y":-6.85},{"s":"100 ps","g":2,"x":552.2,"y":-10.51},{"s":"100 ps","g":2,"x":557.7,"y":-14.16},{"s":"100 ps","g":2,"x":561.3,"y":-15.0},{"s":"100 ps","g":2,"x":565,"y":-14.72},{"s":"100 ps","g":2,"x":570.5,"y":-11.91},{"s":"100 ps","g":2,"x":575.9,"y":-8.26},{"s":"100 ps","g":2,"x":581.4,"y":-5.73},{"s":"100 ps","g":2,"x":588.7,"y":-4.33},{"s":"100 ps","g":2,"x":597.8,"y":-4.04},{"s":"100 ps","g":2,"x":608.8,"y":-3.48},{"s":"100 ps","g":2,"x":619.7,"y":-2.64},{"s":"100 ps","g":2,"x":630.7,"y":-1.4},{"s":"100 ps","g":2,"x":641.6,"y":-0.39},{"s":"100 ps","g":2,"x":650,"y":0},{"s":"100 ps","g":2,"x":659.9,"y":0.45},{"s":"100 ps","g":2,"x":670.8,"y":0.84},{"s":"100 ps","g":2,"x":681.8,"y":1.29},{"s":"100 ps","g":2,"x":692.7,"y":1.85},{"s":"100 ps","g":2,"x":700,"y":2.42},{"s":"100 ps","g":2,"x":707.3,"y":1.85},{"s":"100 ps","g":2,"x":714.6,"y":1.29},{"s":"100 ps","g":2,"x":721.9,"y":1.01},{"s":"100 ps","g":2,"x":729.2,"y":1.01},{"s":"100 ps","g":2,"x":736.5,"y":0.45},{"s":"100 ps","g":2,"x":743.8,"y":0.73},{"s":"100 ps","g":2,"x":749.3,"y":0.17},
  {"s":"0.5 ps","g":1,"x":450,"y":3.26},{"s":"0.5 ps","g":1,"x":455.5,"y":3.54},{"s":"0.5 ps","g":1,"x":462.8,"y":3.43},{"s":"0.5 ps","g":1,"x":470.1,"y":3.09},{"s":"0.5 ps","g":1,"x":477.4,"y":2.53},{"s":"0.5 ps","g":1,"x":484.7,"y":1.85},{"s":"0.5 ps","g":1,"x":492,"y":0.73},{"s":"0.5 ps","g":1,"x":498.5,"y":-0.67},
  {"s":"0.5 ps","g":2,"x":527.7,"y":-3.76},{"s":"0.5 ps","g":2,"x":532.1,"y":-4.04},{"s":"0.5 ps","g":2,"x":539.4,"y":-4.89},{"s":"0.5 ps","g":2,"x":546.7,"y":-7.7},{"s":"0.5 ps","g":2,"x":552.2,"y":-11.63},{"s":"0.5 ps","g":2,"x":557.7,"y":-15.56},{"s":"0.5 ps","g":2,"x":561.3,"y":-17.53},{"s":"0.5 ps","g":2,"x":565,"y":-17.53},{"s":"0.5 ps","g":2,"x":570.5,"y":-15.0},{"s":"0.5 ps","g":2,"x":575.9,"y":-10.51},{"s":"0.5 ps","g":2,"x":581.4,"y":-7.13},{"s":"0.5 ps","g":2,"x":588.7,"y":-5.17},{"s":"0.5 ps","g":2,"x":597.8,"y":-4.61},{"s":"0.5 ps","g":2,"x":608.8,"y":-4.33},{"s":"0.5 ps","g":2,"x":619.7,"y":-3.2},{"s":"0.5 ps","g":2,"x":630.7,"y":-1.52},{"s":"0.5 ps","g":2,"x":641.6,"y":-0.39},{"s":"0.5 ps","g":2,"x":650,"y":0},{"s":"0.5 ps","g":2,"x":659.9,"y":0.28},{"s":"0.5 ps","g":2,"x":670.8,"y":0.62},{"s":"0.5 ps","g":2,"x":681.8,"y":1.18},{"s":"0.5 ps","g":2,"x":692.7,"y":1.85},{"s":"0.5 ps","g":2,"x":700,"y":2.13},{"s":"0.5 ps","g":2,"x":707.3,"y":2.3},{"s":"0.5 ps","g":2,"x":714.6,"y":1.85},{"s":"0.5 ps","g":2,"x":721.9,"y":1.29},{"s":"0.5 ps","g":2,"x":729.2,"y":0.73},{"s":"0.5 ps","g":2,"x":736.5,"y":0.45},{"s":"0.5 ps","g":2,"x":743.8,"y":0.62},{"s":"0.5 ps","g":2,"x":749.3,"y":-0.11}
 ]
},
"layer": [
 {
  "data": {"values": [{}]},
  "layer": [
   {"mark": {"type": "rect", "filled": false, "stroke": "#444", "strokeWidth": 1},
    "encoding": {
     "x": {"datum": 350, "type": "quantitative", "scale": {"domain": [350, 900], "range": [44, 318], "nice": false, "zero": false},
       "axis": {"orient": "bottom", "offset": -608, "values": [400, 500, 600, 700, 800, 900], "tickSize": -5, "labels": false, "title": null}},
     "x2": {"datum": 900},
     "y": {"datum": -0.053, "type": "quantitative", "scale": {"domain": [-0.053, 1.105], "range": [171, 6], "nice": false, "zero": false},
       "axis": {"orient": "left", "offset": -44, "values": [0.2, 0.4, 0.6, 0.8, 1.0], "tickSize": -5, "labels": false, "title": null}},
     "y2": {"datum": 1.105}}},
   {"data": {"name": "aPcbFl"}, "mark": {"type": "line", "color": "#4b4be3", "strokeWidth": 2, "strokeDash": [5, 3], "interpolate": "monotone"},
    "encoding": {"x": {"field": "x", "type": "quantitative", "axis": {"orient": "bottom", "offset": -608, "values": [360,380,420,440,460,480,520,540,560,580,620,640,660,680,720,740,760,780,820,840,860,880], "tickSize": -3, "labels": false, "title": null}}, "y": {"field": "y", "type": "quantitative", "axis": null}}},
   {"data": {"name": "aPcbAbs"}, "mark": {"type": "line", "color": "#4b4be3", "strokeWidth": 2, "interpolate": "monotone"},
    "encoding": {"x": {"field": "x", "type": "quantitative", "axis": null}, "y": {"field": "y", "type": "quantitative", "axis": null}}},
   {"mark": {"type": "text", "text": "625"}, "encoding": {"x": {"datum": 585.7, "axis": null}, "y": {"datum": 0.96, "axis": null}}},
   {"mark": {"type": "text", "text": "644"}, "encoding": {"x": {"datum": 680, "axis": null}, "y": {"datum": 0.96, "axis": null}}},
   {"mark": {"type": "text", "text": "CpcA-PCB"}, "encoding": {"x": {"datum": 810, "axis": null}, "y": {"datum": 1.007, "axis": null}}},
   {"mark": {"type": "text", "text": "a", "fontSize": 18, "align": "left", "baseline": "alphabetic"}, "encoding": {"x": {"datum": 262, "axis": null}, "y": {"datum": 1.042, "axis": null}}},
   {"mark": {"type": "text", "text": "Absorbance (——)", "fontSize": 14, "angle": 270}, "encoding": {"x": {"datum": 312, "axis": null}, "y": {"datum": -0.045, "axis": null}}},
   {"mark": {"type": "text", "text": "Fluorescence Intensity (- - -)", "fontSize": 14, "angle": 90}, "encoding": {"x": {"datum": 930, "axis": null}, "y": {"datum": -0.035, "axis": null}}}
  ],
  "resolve": {"axis": {"x": "independent", "y": "independent"}}
 },
 {
  "data": {"values": [{}]},
  "layer": [
   {"mark": {"type": "rect", "filled": false, "stroke": "#444", "strokeWidth": 1},
    "encoding": {
     "x": {"datum": 350, "type": "quantitative", "scale": {"domain": [350, 900], "range": [44, 318], "nice": false, "zero": false},
       "axis": {"orient": "bottom", "offset": -435, "values": [400, 500, 600, 700, 800, 900], "tickSize": -5, "labelPadding": 12.5, "title": "Wavelength (nm)", "titleFontSize": 15, "titleX": 181, "titleY": 34, "titleBaseline": "middle"}},
     "x2": {"datum": 900},
     "y": {"datum": -0.05, "type": "quantitative", "scale": {"domain": [-0.05, 1.107], "range": [344, 179], "nice": false, "zero": false},
       "axis": {"orient": "left", "offset": -44, "values": [0.2, 0.4, 0.6, 0.8, 1.0], "tickSize": -5, "labels": false, "title": null}},
     "y2": {"datum": 1.107}}},
   {"data": {"name": "aPebFl"}, "mark": {"type": "line", "color": "#e34a4a", "strokeWidth": 2, "strokeDash": [5, 3], "interpolate": "monotone"},
    "encoding": {"x": {"field": "x", "type": "quantitative", "axis": {"orient": "bottom", "offset": -435, "values": [360,380,420,440,460,480,520,540,560,580,620,640,660,680,720,740,760,780,820,840,860,880], "tickSize": -3, "labels": false, "title": null}}, "y": {"field": "y", "type": "quantitative", "axis": null}}},
   {"data": {"name": "aPebAbs"}, "mark": {"type": "line", "color": "#e34a4a", "strokeWidth": 2, "interpolate": "monotone"},
    "encoding": {"x": {"field": "x", "type": "quantitative", "axis": null}, "y": {"field": "y", "type": "quantitative", "axis": null}}},
   {"mark": {"type": "text", "text": "557"}, "encoding": {"x": {"datum": 517.3, "axis": null}, "y": {"datum": 0.96, "axis": null}}},
   {"mark": {"type": "text", "text": "568"}, "encoding": {"x": {"datum": 610, "axis": null}, "y": {"datum": 0.96, "axis": null}}},
   {"mark": {"type": "text", "text": "CpcA-PEB"}, "encoding": {"x": {"datum": 810, "axis": null}, "y": {"datum": 1.02, "axis": null}}}
  ],
  "resolve": {"axis": {"x": "independent", "y": "independent"}}
 },
 {
  "data": {"values": [{}]},
  "layer": [
   {"mark": {"type": "rect", "filled": false, "stroke": "#444", "strokeWidth": 1},
    "encoding": {
     "x": {"datum": -0.49, "type": "quantitative", "scale": {"domain": [-0.49, 6.62], "range": [400, 674], "nice": false, "zero": false},
       "axis": {"orient": "bottom", "offset": -617, "values": [0, 1, 2, 3, 4, 5, 6], "tickSize": -5, "labelPadding": 10.2, "title": null}},
     "x2": {"datum": 6.62},
     "y": {"datum": -0.074, "type": "quantitative", "scale": {"domain": [-0.074, 1.106], "range": [162, 6], "nice": false, "zero": false},
       "axis": {"orient": "left", "offset": -400, "values": [0.2, 0.4, 0.6, 0.8, 1.0], "tickSize": -5, "labels": false, "title": null}},
     "y2": {"datum": 1.106}}},
   {"data": {"name": "bPcbIrf"}, "mark": {"type": "point", "shape": "circle", "filled": false, "stroke": "#555", "strokeWidth": 0.8, "size": 14},
    "encoding": {"x": {"field": "x", "type": "quantitative", "axis": null}, "y": {"field": "y", "type": "quantitative", "axis": null}}},
   {"data": {"name": "bPcb"}, "mark": {"type": "line", "color": "#4b4be3", "strokeWidth": 4.5, "interpolate": "monotone"},
    "encoding": {"x": {"field": "x", "type": "quantitative", "axis": null}, "y": {"field": "y", "type": "quantitative", "axis": null}}},
   {"mark": {"type": "text", "text": "CpcA-PCB"}, "encoding": {"x": {"datum": 3.15, "axis": null}, "y": {"datum": 1.006, "axis": null}}},
   {"mark": {"type": "text", "text": "τ = 1.3 ns"}, "encoding": {"x": {"datum": 3.24, "axis": null}, "y": {"datum": 0.418, "axis": null}}},
   {"mark": {"type": "text", "text": "b", "fontSize": 18, "align": "left", "baseline": "alphabetic"}, "encoding": {"x": {"datum": -1.532, "axis": null}, "y": {"datum": 1.037, "axis": null}}},
   {"mark": {"type": "text", "text": "Fluorescence Intensity", "fontSize": 14, "angle": 270}, "encoding": {"x": {"datum": -0.88, "axis": null}, "y": {"datum": -0.135, "axis": null}}}
  ],
  "resolve": {"axis": {"x": "independent", "y": "independent"}}
 },
 {
  "data": {"values": [{}]},
  "layer": [
   {"mark": {"type": "rect", "filled": false, "stroke": "#444", "strokeWidth": 1},
    "encoding": {
     "x": {"datum": -0.51, "type": "quantitative", "scale": {"domain": [-0.51, 9.02], "range": [400, 674], "nice": false, "zero": false},
       "axis": {"orient": "bottom", "offset": -435, "values": [0, 1, 2, 3, 4, 5, 6, 7, 8], "tickSize": -5, "labelPadding": 8.8, "title": "Time (ns)", "titleFontSize": 15, "titleX": 524, "titleY": 29, "titleBaseline": "middle"}},
     "x2": {"datum": 9.02},
     "y": {"datum": -0.07, "type": "quantitative", "scale": {"domain": [-0.07, 1.1], "range": [344, 189], "nice": false, "zero": false},
       "axis": {"orient": "left", "offset": -400, "values": [0.2, 0.4, 0.6, 0.8, 1.0], "tickSize": -5, "labels": false, "title": null}},
     "y2": {"datum": 1.1}}},
   {"data": {"name": "bPebIrf"}, "mark": {"type": "point", "shape": "circle", "filled": false, "stroke": "#555", "strokeWidth": 0.8, "size": 14},
    "encoding": {"x": {"field": "x", "type": "quantitative", "axis": null}, "y": {"field": "y", "type": "quantitative", "axis": null}}},
   {"data": {"name": "bPeb"}, "mark": {"type": "line", "color": "#f09a9a", "strokeWidth": 4.5, "interpolate": "monotone"},
    "encoding": {"x": {"field": "x", "type": "quantitative", "axis": null}, "y": {"field": "y", "type": "quantitative", "axis": null}}},
   {"data": {"name": "bPeb"}, "mark": {"type": "line", "color": "#d83c3c", "strokeWidth": 1.6, "interpolate": "monotone"},
    "encoding": {"x": {"field": "x", "type": "quantitative", "axis": null}, "y": {"field": "y", "type": "quantitative", "axis": null}}},
   {"mark": {"type": "text", "text": "CpcA-PEB"}, "encoding": {"x": {"datum": 4.37, "axis": null}, "y": {"datum": 0.992, "axis": null}}},
   {"mark": {"type": "text", "text": "τ = 1.9 ns"}, "encoding": {"x": {"datum": 4.66, "axis": null}, "y": {"datum": 0.383, "axis": null}}}
  ],
  "resolve": {"axis": {"x": "independent", "y": "independent"}}
 },
 {
  "data": {"values": [{}]},
  "layer": [
   {"layer": [
     {"mark": {"type": "rect", "filled": false, "stroke": "#444", "strokeWidth": 1},
      "encoding": {
       "x": {"datum": -0.215, "type": "quantitative", "scale": {"domain": [-0.215, 7.43], "range": [44, 318], "nice": false, "zero": false},
         "axis": {"orient": "bottom", "offset": -217, "values": [0, 1, 2, 3, 4, 5, 6, 7], "tickSize": -5, "labels": false, "title": null}},
       "x2": {"datum": 7.43},
       "y": {"datum": -14.07, "type": "quantitative", "scale": {"domain": [-14.07, 4.06], "range": [562, 407], "nice": false, "zero": false},
         "axis": {"orient": "left", "offset": -44, "values": [0, -4, -8, -12], "tickSize": 5, "labelPadding": 2.5, "title": "ΔA x 1000", "titleFontSize": 13.5, "titleX": -19, "titleY": 478, "titleAngle": 270, "titleBaseline": "middle", "titleAlign": "center"}},
       "y2": {"datum": 4.06}}},
     {"data": {"name": "c640pts"}, "mark": {"type": "point", "shape": "circle", "filled": false, "stroke": "#777", "strokeWidth": 0.8, "size": 16},
      "encoding": {"x": {"field": "x", "type": "quantitative", "axis": null}, "y": {"field": "y", "type": "quantitative", "axis": null}}},
     {"data": {"name": "c640fit"}, "mark": {"type": "line", "color": "#4b4be3", "strokeWidth": 2, "interpolate": "monotone"},
      "encoding": {"x": {"field": "x", "type": "quantitative", "axis": null}, "y": {"field": "y", "type": "quantitative", "axis": null}}},
     {"mark": {"type": "text", "text": "CPCA-PCB"}, "encoding": {"x": {"datum": 3.86, "axis": null}, "y": {"datum": 2.53, "axis": null}}},
     {"mark": {"type": "text", "text": "640 nm", "fontSize": 13.5}, "encoding": {"x": {"datum": 6.23, "axis": null}, "y": {"datum": -2.61, "axis": null}}},
     {"mark": {"type": "text", "text": "τ = 1.3 ns", "fontSize": 13.5}, "encoding": {"x": {"datum": 4.04, "axis": null}, "y": {"datum": -5.06, "axis": null}}},
     {"mark": {"type": "text", "text": "680 nm", "fontSize": 13.5}, "encoding": {"x": {"datum": 6.23, "axis": null}, "y": {"datum": -7.67, "axis": null}}},
     {"mark": {"type": "text", "text": "c", "fontSize": 18, "align": "left", "baseline": "alphabetic"}, "encoding": {"x": {"datum": -1.4, "axis": null}, "y": {"datum": 3.94, "axis": null}}}
    ],
    "resolve": {"axis": {"x": "independent", "y": "independent"}}},
   {"layer": [
     {"data": {"name": "c680pts"}, "mark": {"type": "point", "shape": "circle", "filled": false, "stroke": "#777", "strokeWidth": 0.8, "size": 16},
      "encoding": {"x": {"field": "x", "type": "quantitative", "axis": null},
        "y": {"field": "y", "type": "quantitative", "scale": {"domain": [-2.06, 9.05], "range": [562, 407], "nice": false, "zero": false},
          "axis": {"orient": "right", "offset": -367, "values": [0, 2, 4, 6, 8], "tickSize": 5, "labelPadding": 2, "title": "ΔA x 1000", "titleFontSize": 13.5, "titleX": 20, "titleY": 483, "titleAngle": 90, "titleBaseline": "middle", "titleAlign": "center"}}}},
     {"data": {"name": "c680fit"}, "mark": {"type": "line", "color": "#4b4be3", "strokeWidth": 2, "strokeDash": [6, 4], "interpolate": "monotone"},
      "encoding": {"x": {"field": "x", "type": "quantitative", "axis": null}, "y": {"field": "y", "type": "quantitative", "axis": null}}}
    ],
    "resolve": {"axis": {"x": "independent", "y": "independent"}}}
  ],
  "resolve": {"scale": {"y": "independent"}, "axis": {"x": "independent", "y": "independent"}}
 },
 {
  "data": {"values": [{}]},
  "layer": [
   {"layer": [
     {"mark": {"type": "rect", "filled": false, "stroke": "#444", "strokeWidth": 1},
      "encoding": {
       "x": {"datum": -0.215, "type": "quantitative", "scale": {"domain": [-0.215, 7.43], "range": [44, 318], "nice": false, "zero": false},
         "axis": {"orient": "bottom", "offset": -43, "values": [0, 1, 2, 3, 4, 5, 6, 7], "tickSize": -5, "labelPadding": 13.5, "title": "Time (ns)", "titleFontSize": 15, "titleX": 177, "titleY": 36, "titleBaseline": "middle"}},
       "x2": {"datum": 7.43},
       "y": {"datum": -14.13, "type": "quantitative", "scale": {"domain": [-14.13, 2.08], "range": [736, 580], "nice": false, "zero": false},
         "axis": {"orient": "left", "offset": -44, "values": [0, -4, -8, -12], "tickSize": 5, "labelPadding": 2.5, "title": "ΔA x 1000", "titleFontSize": 13.5, "titleX": -19, "titleY": 665, "titleAngle": 270, "titleBaseline": "middle", "titleAlign": "center"}},
       "y2": {"datum": 2.08}}},
     {"data": {"name": "c550pts"}, "mark": {"type": "point", "shape": "circle", "filled": false, "stroke": "#666", "strokeWidth": 0.8, "size": 16},
      "encoding": {"x": {"field": "x", "type": "quantitative", "axis": null}, "y": {"field": "y", "type": "quantitative", "axis": null}}},
     {"data": {"name": "c550fit"}, "mark": {"type": "line", "color": "#e34a4a", "strokeWidth": 2, "interpolate": "monotone"},
      "encoding": {"x": {"field": "x", "type": "quantitative", "axis": null}, "y": {"field": "y", "type": "quantitative", "axis": null}}},
     {"mark": {"type": "text", "text": "CPCA-PEB"}, "encoding": {"x": {"datum": 3.67, "axis": null}, "y": {"datum": 0.52, "axis": null}}},
     {"mark": {"type": "text", "text": "550 nm", "fontSize": 13.5}, "encoding": {"x": {"datum": 6.27, "axis": null}, "y": {"datum": -1.91, "axis": null}}},
     {"mark": {"type": "text", "text": "τ = 1.8 ns", "fontSize": 13.5}, "encoding": {"x": {"datum": 3.58, "axis": null}, "y": {"datum": -5.81, "axis": null}}},
     {"mark": {"type": "text", "text": "460 nm", "fontSize": 13.5}, "encoding": {"x": {"datum": 6.23, "axis": null}, "y": {"datum": -9.98, "axis": null}}}
    ],
    "resolve": {"axis": {"x": "independent", "y": "independent"}}},
   {"layer": [
     {"data": {"name": "c460pts"}, "mark": {"type": "point", "shape": "circle", "filled": false, "stroke": "#666", "strokeWidth": 0.8, "size": 16},
      "encoding": {"x": {"field": "x", "type": "quantitative", "axis": null},
        "y": {"field": "y", "type": "quantitative", "scale": {"domain": [-2.69, 8.27], "range": [736, 580], "nice": false, "zero": false},
          "axis": {"orient": "right", "offset": -367, "values": [0, 2, 4, 6], "tickSize": 5, "labelPadding": 2, "title": "ΔA x 1000", "titleFontSize": 13.5, "titleX": 20, "titleY": 660, "titleAngle": 90, "titleBaseline": "middle", "titleAlign": "center"}}}},
     {"data": {"name": "c460fit"}, "mark": {"type": "line", "color": "#e34a4a", "strokeWidth": 2, "strokeDash": [6, 4], "interpolate": "monotone"},
      "encoding": {"x": {"field": "x", "type": "quantitative", "axis": null}, "y": {"field": "y", "type": "quantitative", "axis": null}}}
    ],
    "resolve": {"axis": {"x": "independent", "y": "independent"}}}
  ],
  "resolve": {"scale": {"y": "independent"}, "axis": {"x": "independent", "y": "independent"}}
 },
 {
  "data": {"values": [{}]},
  "layer": [
   {"mark": {"type": "rect", "filled": false, "stroke": "#444", "strokeWidth": 1},
    "encoding": {
     "x": {"datum": 450, "type": "quantitative", "scale": {"domain": [450, 750], "range": [400, 674], "nice": false, "zero": false},
       "axis": {"orient": "bottom", "offset": -217, "values": [500, 550, 600, 650, 700], "tickSize": -5, "labels": false, "title": null}},
     "x2": {"datum": 750},
     "y": {"datum": -13.0, "type": "quantitative", "scale": {"domain": [-13.0, 6.92], "range": [562.3, 408.3], "nice": false, "zero": false},
       "axis": {"orient": "left", "offset": -400, "values": [5, 0, -5, -10], "tickSize": 5, "labelPadding": 4, "labelFontSize": 14, "title": "ΔA x 1000", "titleFontSize": 13.5, "titleX": -23, "titleY": 485, "titleAngle": 270, "titleBaseline": "middle", "titleAlign": "center"}},
     "y2": {"datum": 6.92}}},
   {"mark": {"type": "rule", "color": "#222", "strokeWidth": 1.2}, "encoding": {"x": {"datum": 450, "axis": null}, "x2": {"datum": 750}, "y": {"datum": 0, "axis": null}}},
   {"data": {"name": "dPcb"}, "mark": {"type": "line", "strokeWidth": 1.3, "interpolate": "monotone"},
    "encoding": {"x": {"field": "x", "type": "quantitative", "axis": null}, "y": {"field": "y", "type": "quantitative", "axis": null},
      "color": {"field": "s", "type": "nominal", "scale": {"domain": ["6.0 ns", "1.0 ns", "400 ps", "100 ps", "0.5 ps"], "range": ["#e8a62c", "#2a9e3a", "#b85cb0", "#4f4fef", "#ec4646"]}, "legend": null},
      "detail": {"field": "g", "type": "nominal"}}},
   {"mark": {"type": "text", "text": "CPCA-PCB"}, "encoding": {"x": {"datum": 597.8, "axis": null}, "y": {"datum": 5.6, "axis": null}}},
   {"mark": {"type": "text", "text": "6.0 ns", "align": "left", "color": "#e8a62c", "fontSize": 13.5}, "encoding": {"x": {"datum": 671.6, "axis": null}, "y": {"datum": -2.37, "axis": null}}},
   {"mark": {"type": "text", "text": "1.0 ns", "align": "left", "color": "#2a9e3a", "fontSize": 13.5}, "encoding": {"x": {"datum": 671.6, "axis": null}, "y": {"datum": -4.53, "axis": null}}},
   {"mark": {"type": "text", "text": "400 ps", "align": "left", "color": "#b85cb0", "fontSize": 13.5}, "encoding": {"x": {"datum": 671.6, "axis": null}, "y": {"datum": -6.59, "axis": null}}},
   {"mark": {"type": "text", "text": "100 ps", "align": "left", "color": "#4f4fef", "fontSize": 13.5}, "encoding": {"x": {"datum": 671.6, "axis": null}, "y": {"datum": -8.62, "axis": null}}},
   {"mark": {"type": "text", "text": "0.5 ps", "align": "left", "color": "#ec4646", "fontSize": 13.5}, "encoding": {"x": {"datum": 671.6, "axis": null}, "y": {"datum": -10.65, "axis": null}}},
   {"mark": {"type": "text", "text": "d", "fontSize": 18, "align": "left", "baseline": "alphabetic"}, "encoding": {"x": {"datum": 405.7, "axis": null}, "y": {"datum": 6.82, "axis": null}}}
  ],
  "resolve": {"axis": {"x": "independent", "y": "independent"}}
 },
 {
  "data": {"values": [{}]},
  "layer": [
   {"mark": {"type": "rect", "filled": false, "stroke": "#444", "strokeWidth": 1},
    "encoding": {
     "x": {"datum": 450, "type": "quantitative", "scale": {"domain": [450, 750], "range": [400, 674], "nice": false, "zero": false},
       "axis": {"orient": "bottom", "offset": -43.3, "values": [450, 500, 550, 600, 650, 700, 750], "tickSize": -5, "labelPadding": 10, "labelFontSize": 14, "title": "Wavelength (nm)", "titleFontSize": 15, "titleX": 540, "titleY": 36, "titleBaseline": "middle"}},
     "x2": {"datum": 750},
     "y": {"datum": -20.1, "type": "quantitative", "scale": {"domain": [-20.1, 6.55], "range": [735.7, 577.5], "nice": false, "zero": false},
       "axis": {"orient": "left", "offset": -400, "values": [5, 0, -5, -10, -15], "tickSize": 5, "labelPadding": 3, "labelFontSize": 14, "title": "ΔA x 1000", "titleFontSize": 13.5, "titleX": -25, "titleY": 668, "titleAngle": 270, "titleBaseline": "middle", "titleAlign": "center"}},
     "y2": {"datum": 6.55}}},
   {"mark": {"type": "rule", "color": "#222", "strokeWidth": 1.2}, "encoding": {"x": {"datum": 450, "axis": null}, "x2": {"datum": 750}, "y": {"datum": 0, "axis": null}}},
   {"data": {"name": "dPeb"}, "mark": {"type": "line", "strokeWidth": 1.3, "interpolate": "monotone"},
    "encoding": {"x": {"field": "x", "type": "quantitative", "axis": null}, "y": {"field": "y", "type": "quantitative", "axis": null},
      "color": {"field": "s", "type": "nominal", "scale": {"domain": ["7.5 ns", "1.0 ns", "400 ps", "100 ps", "0.5 ps"], "range": ["#e8a62c", "#2a9e3a", "#a530c0", "#4f4fef", "#ec4646"]}, "legend": null},
      "detail": {"field": "g", "type": "nominal"}}},
   {"mark": {"type": "text", "text": "CPCA-PEB"}, "encoding": {"x": {"datum": 596, "axis": null}, "y": {"datum": 3.8, "axis": null}}},
   {"mark": {"type": "text", "text": "7.5 ns", "align": "left", "color": "#e8a62c", "fontSize": 13.5}, "encoding": {"x": {"datum": 638, "axis": null}, "y": {"datum": -5.84, "axis": null}}},
   {"mark": {"type": "text", "text": "1.0 ns", "align": "left", "color": "#2a9e3a", "fontSize": 13.5}, "encoding": {"x": {"datum": 638, "axis": null}, "y": {"datum": -8.37, "axis": null}}},
   {"mark": {"type": "text", "text": "400 ps", "align": "left", "color": "#b85cb0", "fontSize": 13.5}, "encoding": {"x": {"datum": 638, "axis": null}, "y": {"datum": -11.07, "axis": null}}},
   {"mark": {"type": "text", "text": "100 ps", "align": "left", "color": "#4f4fef", "fontSize": 13.5}, "encoding": {"x": {"datum": 638, "axis": null}, "y": {"datum": -13.71, "axis": null}}},
   {"mark": {"type": "text", "text": "0.5 ps", "align": "left", "color": "#ec4646", "fontSize": 13.5}, "encoding": {"x": {"datum": 638, "axis": null}, "y": {"datum": -16.4, "axis": null}}}
  ],
  "resolve": {"axis": {"x": "independent", "y": "independent"}}
 }
],
"resolve": {"scale": {"x": "independent", "y": "independent", "color": "independent"}, "axis": {"x": "independent", "y": "independent"}}
}
